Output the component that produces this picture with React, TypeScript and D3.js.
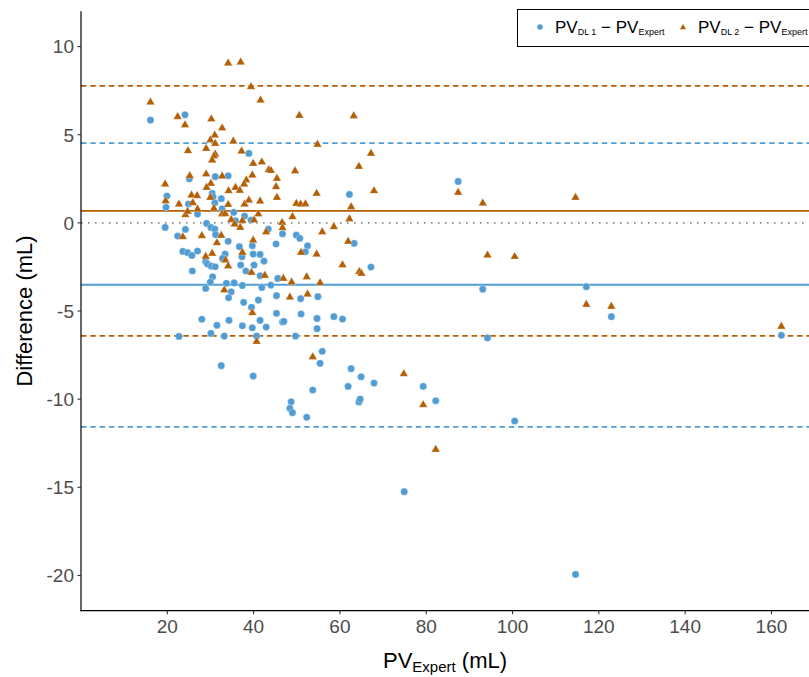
import React from "react";
import * as d3 from "d3";

// PV_DL1 - PV_Expert  : [PV_Expert, difference]
const dl1: [number, number][] = [
  [16.1, 5.83], [24.1, 6.13], [38.9, 3.94], [31.1, 2.62], [34.1, 2.67], [25.1, 2.5], [30.4, 1.67], [30.6, 1.48],
  [32.5, 1.37], [19.9, 1.52], [19.7, 0.88], [24.9, 1.07], [27.0, 0.5], [31.0, 1.14], [32.7, 0.8], [35.4, 0.6],
  [37.9, 0.39], [39.4, 0.16], [35.8, 0.12],
  [19.5, -0.26], [22.4, -0.75], [24.2, -0.37], [29.1, -0.03], [30.1, -0.26], [31.0, -0.35], [31.2, -0.67], [34.1, -1.05],
  [43.4, -0.35], [45.2, -1.2], [23.6, -1.62], [24.7, -1.69], [25.7, -1.85], [27.0, -1.6], [28.9, -2.2], [29.3, -2.34],
  [30.2, -2.45], [31.1, -2.49], [33.4, -1.77], [32.8, -2.02], [25.8, -2.73], [36.7, -1.35], [37.3, -1.92], [37.0, -2.39],
  [39.7, -1.3], [39.9, -1.77], [41.5, -1.79], [42.4, -2.17], [40.1, -2.39], [38.2, -2.73], [41.5, -3.0], [30.5, -3.06],
  [29.97, -3.36], [28.9, -3.72], [33.7, -3.43], [35.5, -3.41], [37.4, -3.55], [34.8, -3.91], [34.2, -4.25], [41.9, -3.66],
  [44.0, -3.53], [45.6, -3.15], [45.3, -4.13], [41.1, -4.38], [37.7, -4.51], [39.5, -4.79], [45.3, -5.13], [28.0, -5.47],
  [34.3, -5.53], [31.5, -5.81], [37.4, -5.84], [39.7, -5.95], [41.5, -5.53], [42.9, -5.91], [22.7, -6.44], [30.1, -6.27],
  [33.2, -6.42], [40.7, -6.42], [32.5, -8.1], [39.9, -8.69],
  [87.4, 2.35], [62.2, 1.61], [46.7, -0.62], [49.9, -0.69], [50.7, -0.88], [63.3, -1.16],
  [52.5, -1.3], [52.0, -1.64], [67.2, -2.51], [50.9, -4.3], [54.9, -4.19], [51.0, -5.17], [46.7, -5.63], [47.0, -5.59],
  [54.7, -5.42], [58.6, -5.32], [60.6, -5.46], [54.7, -6.0], [49.7, -6.42], [55.9, -7.29], [55.4, -7.97], [62.6, -8.27],
  [64.9, -8.73], [67.9, -9.09], [61.9, -9.28], [79.3, -9.28], [53.7, -9.48], [64.4, -10.16], [64.7, -10.0], [48.7, -10.15],
  [48.4, -10.52], [49.0, -10.77], [52.3, -11.03], [82.2, -10.09],
  [93.1, -3.76], [117.1, -3.62], [122.9, -5.32], [162.3, -6.38], [94.2, -6.53], [100.5, -11.24], [74.9, -15.25], [114.6, -19.94],
];

// PV_DL2 - PV_Expert : [PV_Expert, difference]
const dl2: [number, number][] = [
  [34.1, 9.1], [37.0, 9.16], [39.4, 7.76], [41.6, 7.0], [16.1, 6.89], [22.4, 6.06], [24.1, 5.6], [30.2, 5.93],
  [32.7, 5.42], [31.0, 5.02], [29.98, 4.74], [31.1, 4.54], [35.3, 4.68], [29.0, 4.26], [24.8, 4.13], [31.1, 3.94],
  [30.8, 3.83], [30.4, 3.6], [37.2, 4.11], [39.9, 3.41], [41.9, 3.49], [43.5, 3.05], [44.0, 3.01], [45.4, 2.56],
  [45.2, 2.09], [45.4, 1.48], [19.5, 2.24], [25.2, 2.71], [29.0, 2.81], [30.1, 2.28], [29.1, 2.05], [32.7, 2.69],
  [39.7, 2.75], [38.3, 2.47], [37.8, 2.24], [35.8, 2.05], [34.2, 1.86], [36.8, 1.88], [25.6, 1.61], [26.9, 1.58],
  [25.9, 1.18], [22.7, 1.1], [19.6, 1.29], [29.97, 1.48], [30.8, 0.86], [34.1, 1.08], [32.7, 0.54], [33.4, 0.56],
  [37.9, 1.1], [38.9, 1.33], [41.5, 1.27], [41.1, 0.54], [40.1, 0.2], [24.2, 0.5], [24.7, 0.69], [27.0, 0.82],
  [34.8, 0.22], [37.4, 0.16],
  [23.6, -0.75], [28.0, -0.69], [32.5, -0.67], [35.6, -0.03], [36.9, -0.22], [39.9, -0.94], [42.9, -0.47], [31.5, -1.09],
  [37.4, -1.64], [28.9, -1.86], [30.4, -1.69], [33.5, -2.07], [34.1, -2.41], [39.5, -2.77], [42.6, -2.94], [33.2, -3.77],
  [39.7, -5.06], [40.7, -6.69],
  [50.6, 6.13], [63.2, 6.11], [54.8, 4.49], [67.2, 3.98], [64.4, 3.24], [49.6, 2.99], [54.6, 1.71], [67.9, 1.86],
  [49.9, 1.14], [50.9, 1.1], [52.0, 1.12], [62.6, 0.95], [62.2, 0.27], [49.0, 0.39], [46.6, 0.06], [46.7, -0.24],
  [55.9, -0.47], [58.6, -0.18], [61.9, -1.01], [87.4, 1.77],
  [51.0, -1.64], [54.6, -1.73], [60.6, -2.34], [64.5, -2.72], [64.96, -2.83], [46.9, -3.11], [48.8, -3.32], [52.3, -3.02],
  [55.4, -3.36], [48.4, -4.17], [52.5, -4.0], [53.7, -7.56], [74.8, -8.52], [79.3, -10.28],
  [93.1, 1.16], [114.6, 1.48], [94.2, -1.79], [100.5, -1.87], [117.1, -4.59], [122.9, -4.7], [162.3, -5.83], [82.2, -12.81],
];

// Bland-Altman lines: [lower LoA, mean bias, upper LoA]
const dl1Lines = [-11.57, -3.51, 4.52];
const dl2Lines = [-6.41, 0.68, 7.77];

const xTicks = [20, 40, 60, 80, 100, 120, 140, 160];
const yTicks = [10, 5, 0, -5, -10, -15, -20];

const BLUE = "#519DD3";
const ORANGE = "#B45F06";
const FONT = "'Liberation Sans', Arial, sans-serif";

export default function App() {
  const W = 809, H = 677;
  const x = d3.scaleLinear().domain([0, 168.7]).range([81, 809]);
  const y = d3.scaleLinear().domain([-22, 12]).range([610.7, 11.3]);
  const tri = d3.symbol().type(d3.symbolTriangle).size(32)() as string;
  const triLeg = d3.symbol().type(d3.symbolTriangle).size(16)() as string;
  const x0 = x.range()[0], x1 = x.range()[1];
  const yTop = y.range()[1], yBot = y.range()[0];

  const hline = (v: number, color: string, dash: string | undefined, w: number, key: string) => (
    <line key={key} x1={x0} x2={x1} y1={y(v)} y2={y(v)} stroke={color} strokeWidth={w} strokeDasharray={dash} />
  );

  return (
    <svg width={W} height={H} style={{ position: "absolute", left: 0, top: 0, background: "#fff" }} fontFamily={FONT}>
      <rect x={0} y={0} width={W} height={H} fill="#fff" />
      {/* reference lines */}
      {hline(0, "#8c8c8c", "1.6 5.4", 1.6, "zero")}
      {hline(dl1Lines[0], BLUE, "5.5 3.8", 1.6, "b0")}
      {hline(dl1Lines[2], BLUE, "5.5 3.8", 1.6, "b2")}
      {hline(dl1Lines[1], BLUE, undefined, 1.8, "b1")}
      {hline(dl2Lines[0], ORANGE, "5.5 3.8", 1.6, "o0")}
      {hline(dl2Lines[2], ORANGE, "5.5 3.8", 1.6, "o2")}
      {hline(dl2Lines[1], ORANGE, undefined, 1.9, "o1")}

      {/* points */}
      {dl1.map((d, i) => (
        <circle key={"c" + i} cx={x(d[0])} cy={y(d[1])} r={3.6} fill={BLUE} stroke="#fff" strokeOpacity={0.5} strokeWidth={0.6} />
      ))}
      {dl2.map((d, i) => (
        <path key={"t" + i} d={tri} transform={`translate(${x(d[0])},${y(d[1]) + 0.8})`} fill={ORANGE} stroke="#fff" strokeOpacity={0.5} strokeWidth={0.6} />
      ))}

      {/* axes */}
      <line x1={x0} x2={x0} y1={yTop} y2={yBot + 0.6} stroke="#000" strokeWidth={1.2} />
      <line x1={x0 - 0.6} x2={x1} y1={yBot} y2={yBot} stroke="#000" strokeWidth={1.2} />
      {xTicks.map((t) => (
        <g key={"xt" + t}>
          <line x1={x(t)} x2={x(t)} y1={yBot} y2={yBot + 3.5} stroke="#333" strokeWidth={1.1} />
          <text x={x(t)} y={633} textAnchor="middle" fontSize={19} fill="#4d4d4d">{t}</text>
        </g>
      ))}
      {yTicks.map((t) => (
        <g key={"yt" + t}>
          <line x1={x0 - 3.5} x2={x0} y1={y(t)} y2={y(t)} stroke="#333" strokeWidth={1.1} />
          <text x={74} y={y(t) + 6.8} textAnchor="end" fontSize={19} fill="#4d4d4d">{t}</text>
        </g>
      ))}

      {/* axis titles */}
      <text x={445} y={668} textAnchor="middle" fontSize={22} fill="#000">
        PV<tspan fontSize={15} dy={4}>Expert</tspan><tspan dy={-4}> (mL)</tspan>
      </text>
      <text transform={`translate(32,${(yTop + yBot) / 2}) rotate(-90)`} textAnchor="middle" fontSize={22} fill="#000">
        Difference (mL)
      </text>

      {/* legend */}
      <rect x={517.5} y={9.5} width={320} height={37} fill="#fff" stroke="#000" strokeWidth={1} />
      <circle cx={540} cy={27} r={2.8} fill={BLUE} />
      <text x={555} y={33} fontSize={17} fill="#000">
        PV<tspan fontSize={9} dy={2}>DL 1</tspan><tspan dy={-2}> − PV</tspan><tspan fontSize={9} dy={2}>Expert</tspan>
      </text>
      <path d={triLeg} transform="translate(683,27.5)" fill={ORANGE} />
      <text x={698} y={33} fontSize={17} fill="#000">
        PV<tspan fontSize={9} dy={2}>DL 2</tspan><tspan dy={-2}> − PV</tspan><tspan fontSize={9} dy={2}>Expert</tspan>
      </text>
    </svg>
  );
}
